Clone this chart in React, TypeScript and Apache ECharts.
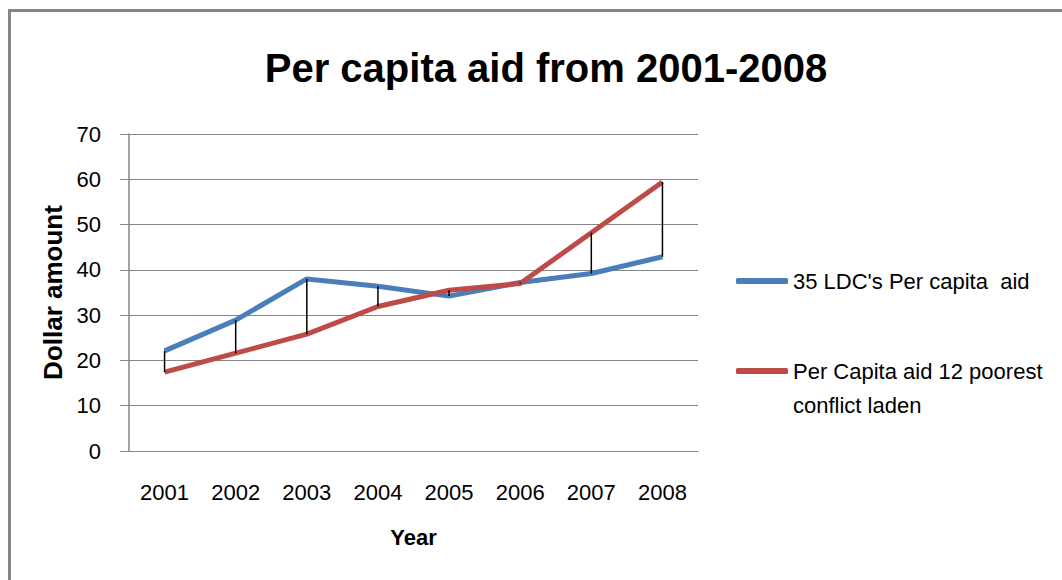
import React, { useEffect, useRef } from "react";
import * as echarts from "echarts";

const years = ["2001", "2002", "2003", "2004", "2005", "2006", "2007", "2008"];
const ldcAid = [22.1, 28.9, 38.0, 36.4, 34.2, 37.2, 39.2, 42.9];
const conflictAid = [17.4, 21.6, 25.8, 31.9, 35.5, 37.0, 48.2, 59.4];
const seriesNames = ["35 LDC's Per capita  aid", "Per Capita aid 12 poorest\nconflict laden"];
const titleText = "Per capita aid from 2001-2008";

const GRAY = "#868686";
const FONT = "'Liberation Sans', Arial, sans-serif";

export default function App() {
  const ref = useRef<HTMLDivElement>(null);
  useEffect(() => {
    if (!ref.current) return;
    const chart = echarts.init(ref.current, undefined, { renderer: "svg" });
    const dropData = years.map((_, i) => [i, ldcAid[i], conflictAid[i]]);
    chart.setOption({
      animation: false,
      backgroundColor: "#fff",
      title: {
        text: titleText,
        left: 541,
        textAlign: "center",
        top: 43,
        textStyle: { fontFamily: FONT, fontSize: 40, fontWeight: "bold", color: "#000" },
      },
      graphic: [
        {
          type: "rect",
          shape: { x: 9.5, y: 10.5, width: 1100, height: 620 },
          style: { fill: "none", stroke: GRAY, lineWidth: 3 },
          silent: true,
        },
      ],
      legend: [
        {
          orient: "vertical",
          left: 731,
          top: 265,
          data: [seriesNames[0]],
          icon: "roundRect",
          itemWidth: 52,
          itemHeight: 6,
          itemGap: 0,
          textStyle: { fontFamily: FONT, fontSize: 22, color: "#000" },
        },
        {
          orient: "vertical",
          left: 731,
          top: 315,
          data: [seriesNames[1]],
          icon: "roundRect",
          itemWidth: 52,
          itemHeight: 6,
          formatter: (name: string) => "\n" + name,
          textStyle: { fontFamily: FONT, fontSize: 22, color: "#000", lineHeight: 34 },
        },
      ],
      grid: { left: 129, right: 364, top: 134, bottom: 129 },
      xAxis: {
        type: "category",
        data: years,
        boundaryGap: true,
        name: "Year",
        nameLocation: "middle",
        nameGap: 75,
        nameTextStyle: { fontFamily: FONT, fontSize: 22, fontWeight: "bold", color: "#000" },
        axisLine: { lineStyle: { color: GRAY, width: 1 } },
        axisTick: { show: false },
        axisLabel: { fontFamily: FONT, fontSize: 22, color: "#000", margin: 30 },
      },
      yAxis: {
        type: "value",
        min: 0,
        max: 70,
        interval: 10,
        name: "Dollar amount",
        nameLocation: "middle",
        nameGap: 61,
        nameTextStyle: { fontFamily: FONT, fontSize: 26, fontWeight: "bold", color: "#000" },
        axisLine: { show: true, lineStyle: { color: GRAY, width: 1.5 } },
        axisTick: { show: true, length: 9, lineStyle: { color: GRAY } },
        axisLabel: { fontFamily: FONT, fontSize: 22, color: "#000", margin: 28 },
        splitLine: { lineStyle: { color: GRAY, width: 1 } },
      },
      series: [
        {
          name: seriesNames[0],
          type: "line",
          data: ldcAid,
          showSymbol: false,
          symbol: "none",
          color: "#4a7ebb",
          lineStyle: { width: 5, color: "#4a7ebb" },
          z: 3,
        },
        {
          name: seriesNames[1],
          type: "line",
          data: conflictAid,
          showSymbol: false,
          symbol: "none",
          color: "#be4b48",
          lineStyle: { width: 5, color: "#be4b48" },
          z: 3,
        },
        {
          name: "drop",
          type: "custom",
          data: dropData,
          z: 5,
          silent: true,
          renderItem: (params: any, api: any) => {
            const i = api.value(0);
            const p1 = api.coord([i, api.value(1)]);
            const p2 = api.coord([i, api.value(2)]);
            return {
              type: "line",
              shape: { x1: p1[0], y1: p1[1], x2: p2[0], y2: p2[1] },
              style: { stroke: "#000", lineWidth: 1.5 },
            };
          },
        },
      ],
    });
    return () => chart.dispose();
  }, []);
  return (
    <div
      ref={ref}
      style={{ position: "fixed", left: 0, top: 0, width: 1062, height: 580, background: "#fff" }}
    />
  );
}
